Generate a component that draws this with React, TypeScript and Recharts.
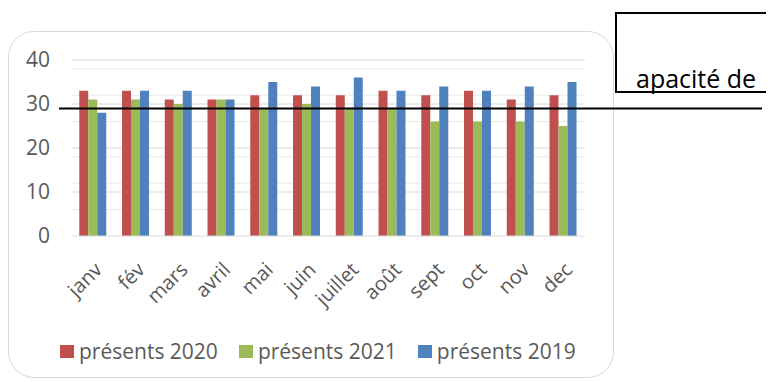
import React from "react";
import {
  Bar,
  BarChart,
  CartesianGrid,
  Legend,
  ReferenceLine,
  XAxis,
  YAxis,
} from "recharts";

const MONTHS = ["janv", "fév", "mars", "avril", "mai", "juin", "juillet", "août", "sept", "oct", "nov", "dec"];
const PRESENTS_2020 = [33, 33, 31, 31, 32, 32, 32, 33, 32, 33, 31, 32];
const PRESENTS_2021 = [31, 31, 30, 31, 29, 30, 29, 29, 26, 26, 26, 25];
const PRESENTS_2019 = [28, 33, 33, 31, 35, 34, 36, 33, 34, 33, 34, 35];
const Y_TICKS = [0, 10, 20, 30, 40];
const MINOR_TICKS = [2, 4, 6, 8, 12, 14, 16, 18, 22, 24, 26, 28, 32, 34, 36, 38];
const CAPACITY = 29;

const SERIES = [
  { key: "p2020", name: "présents 2020", color: "#C0504D" },
  { key: "p2021", name: "présents 2021", color: "#9BBB59" },
  { key: "p2019", name: "présents 2019", color: "#4F81BD" },
];

const data = MONTHS.map((month, i) => ({
  month,
  p2020: PRESENTS_2020[i],
  p2021: PRESENTS_2021[i],
  p2019: PRESENTS_2019[i],
}));

const FONT = "'Open Sans', 'Liberation Sans', sans-serif";
const TEXT_GREY = "#595959";

function MonthTick({ x, y, payload }: any) {
  return (
    <g transform={`translate(${x + 10},${y + 35})`}>
      <text
        textAnchor="end"
        transform="rotate(-45)"
        fill={TEXT_GREY}
        fontSize={20}
        fontFamily={FONT}
      >
        {payload.value}
      </text>
    </g>
  );
}

function LegendRow() {
  return (
    <div
      style={{
        display: "flex",
        alignItems: "center",
        height: 30,
        paddingLeft: 52,
        fontFamily: FONT,
        fontSize: 21,
        color: TEXT_GREY,
      }}
    >
      {SERIES.map((s) => (
        <div key={s.key} style={{ display: "flex", alignItems: "center", marginRight: 21 }}>
          <span style={{ width: 14, height: 13, background: s.color, marginRight: 5 }} />
          <span>{s.name}</span>
        </div>
      ))}
    </div>
  );
}

// the drawn capacity line runs past the plot on both sides
function CapacityLine(props: any) {
  const { x1, x2, y1 } = props;
  return <line x1={x1 - 13} x2={x2 + 177} y1={y1} y2={y1} stroke="#000" strokeWidth={2} />;
}

export default function App() {
  return (
    <div style={{ position: "relative", width: 766, height: 374, overflow: "hidden" }}>
      <div
        style={{
          position: "absolute",
          left: 0,
          top: 23,
          width: 606,
          height: 347,
          border: "1.5px solid #d9d9d9",
          borderRadius: 26,
          boxSizing: "border-box",
        }}
      />
      <div
        style={{
          position: "absolute",
          left: 607,
          top: 4,
          width: 159,
          height: 81,
          border: "2px solid #000",
          borderRight: "none",
          boxSizing: "border-box",
        }}
      >
        <span
          style={{
            position: "absolute",
            left: 19,
            top: 52,
            fontFamily: FONT,
            fontSize: 25,
            lineHeight: 1,
            color: "#000",
            whiteSpace: "nowrap",
          }}
        >
          apacité de
        </span>
      </div>
      <BarChart
        width={766}
        height={374}
        data={data}
        margin={{ top: 52, right: 189, left: 0, bottom: 16 }}
        barCategoryGap="17%"
        barGap={0}
      >
        <CartesianGrid vertical={false} horizontalValues={MINOR_TICKS} stroke="#e9e9e9" strokeWidth={1} />
        <CartesianGrid vertical={false} horizontalValues={[10, 20, 30, 40]} stroke="#d9d9d9" strokeWidth={1} />
        <XAxis
          dataKey="month"
          axisLine={{ stroke: "#d9d9d9" }}
          tickLine={false}
          tickSize={0}
          tickMargin={0}
          interval={0}
          height={100}
          tick={<MonthTick />}
        />
        <YAxis
          domain={[0, 40]}
          ticks={Y_TICKS}
          axisLine={false}
          tickLine={false}
          tickSize={0}
          tickMargin={22}
          width={64}
          tick={{ fill: TEXT_GREY, fontSize: 21, fontFamily: FONT }}
        />
        <Legend
          verticalAlign="bottom"
          wrapperStyle={{ left: 0, bottom: 16, width: 766, height: 30 }}
          content={() => <LegendRow />}
        />
        {SERIES.map((s) => (
          <Bar key={s.key} dataKey={s.key} name={s.name} fill={s.color} isAnimationActive={false} />
        ))}
        <ReferenceLine y={CAPACITY} shape={<CapacityLine />} />
      </BarChart>
    </div>
  );
}
